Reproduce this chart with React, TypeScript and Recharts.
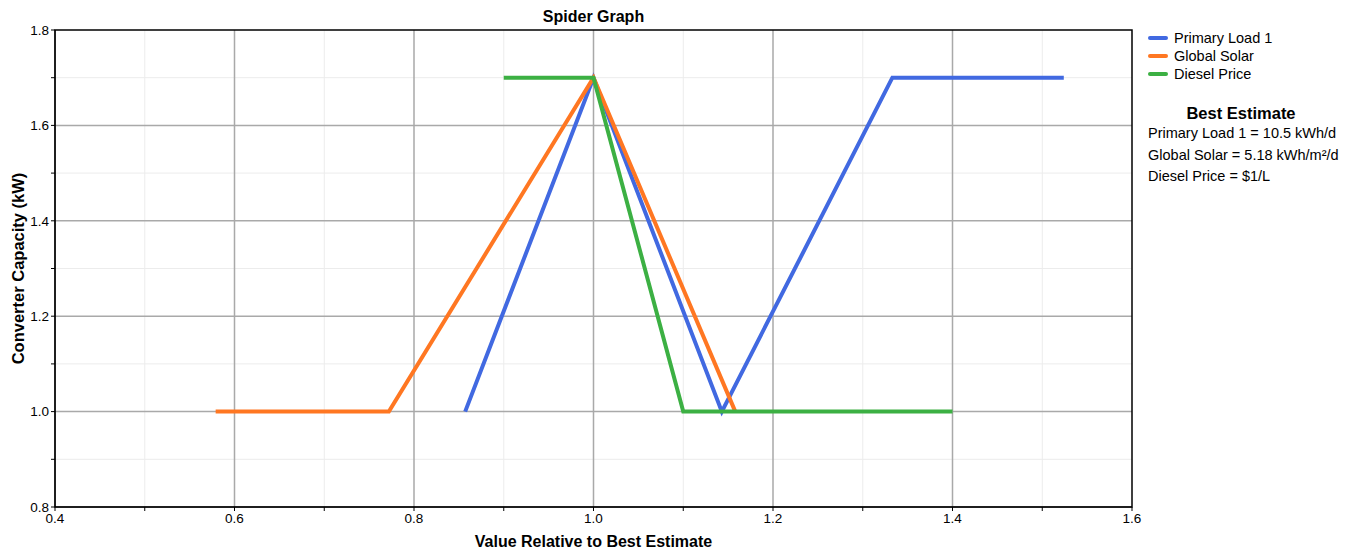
import {
  LineChart,
  Line,
  XAxis,
  YAxis,
  CartesianGrid,
  ReferenceArea,
} from "recharts";

// Sensitivity values, relative to best estimate
const loadX = [0.857, 1.0, 1.143, 1.333, 1.524];
const loadY = [1.0, 1.7, 1.0, 1.7, 1.7];

const solarX = [0.579, 0.772, 1.0, 1.158];
const solarY = [1.0, 1.0, 1.7, 1.0];

const dieselX = [0.9, 1.0, 1.1, 1.4];
const dieselY = [1.7, 1.7, 1.0, 1.0];

const xTicks = [0.4, 0.5, 0.6, 0.7, 0.8, 0.9, 1.0, 1.1, 1.2, 1.3, 1.4, 1.5, 1.6];
const yTicks = [0.8, 0.9, 1.0, 1.1, 1.2, 1.3, 1.4, 1.5, 1.6, 1.7, 1.8];
const xMajor = [0.6, 0.8, 1.0, 1.2, 1.4];
const xMinor = [0.5, 0.7, 0.9, 1.1, 1.3, 1.5];
const yMajor = [1.0, 1.2, 1.4, 1.6];
const yMinor = [0.9, 1.1, 1.3, 1.5, 1.7];

const seriesNames = ["Primary Load 1", "Global Solar", "Diesel Price"];
const seriesColors = ["#4169e1", "#ff7722", "#3cb043"];
const bestEstimates = [
  "Primary Load 1 = 10.5 kWh/d",
  "Global Solar = 5.18 kWh/m²/d",
  "Diesel Price = $1/L",
];

const toRows = (xs: number[], ys: number[]) => xs.map((x, i) => ({ x, y: ys[i] }));
const seriesData = [toRows(loadX, loadY), toRows(solarX, solarY), toRows(dieselX, dieselY)];

const FONT = "'Liberation Sans', Arial, sans-serif";

const isMajor = (v: number) => Math.round(v * 10) % 2 === 0;

function SideLegend() {
  return (
    <div
      style={{
        position: "absolute",
        left: 1148,
        top: 29,
        fontFamily: FONT,
        fontSize: 14.5,
        color: "#000",
        width: 211,
      }}
    >
      {seriesNames.map((name, i) => (
        <div key={name} style={{ display: "flex", alignItems: "center", height: 18 }}>
          <span
            style={{
              display: "inline-block",
              width: 20,
              height: 4,
              background: seriesColors[i],
              borderRadius: 2,
              marginRight: 6,
            }}
          />
          {name}
        </div>
      ))}
      <div
        style={{
          fontWeight: "bold",
          fontSize: 16.5,
          textAlign: "center",
          width: 186,
          marginTop: 20,
          height: 20,
          lineHeight: "20px",
        }}
      >
        Best Estimate
      </div>
      {bestEstimates.map((t) => (
        <div key={t} style={{ height: 21.5, lineHeight: "21.5px", whiteSpace: "nowrap" }}>
          {t}
        </div>
      ))}
    </div>
  );
}

export default function App() {
  return (
    <div
      style={{
        position: "absolute",
        left: 0,
        top: 0,
        width: 1359,
        height: 551,
        background: "#fff",
      }}
    >
      <div
        style={{
          position: "absolute",
          top: 8,
          left: 55,
          width: 1077,
          textAlign: "center",
          fontFamily: FONT,
          fontWeight: "bold",
          fontSize: 16,
        }}
      >
        Spider Graph
      </div>
      <LineChart
        width={1359}
        height={551}
        margin={{ top: 30, right: 227, bottom: 0, left: 0 }}
        style={{ fontFamily: FONT }}
      >
        <CartesianGrid
          stroke="#ececec"
          strokeWidth={1}
          verticalValues={xMinor}
          horizontalValues={yMinor}
        />
        <CartesianGrid
          stroke="#a9a9a9"
          strokeWidth={1.5}
          verticalValues={xMajor}
          horizontalValues={yMajor}
        />
        <XAxis
          type="number"
          dataKey="x"
          domain={[0.4, 1.6]}
          ticks={xTicks}
          interval={0}
          allowDuplicatedCategory={false}
          height={44}
          stroke="#000"
          tickSize={4}
          tick={{ fill: "#000", fontSize: 13.5 }}
          tickFormatter={(v: number) => (isMajor(v) ? v.toFixed(1) : "")}
          label={{
            value: "Value Relative to Best Estimate",
            position: "insideBottom",
            offset: 4,
            style: { fill: "#000", fontSize: 16, fontWeight: "bold" },
          }}
        />
        <YAxis
          type="number"
          dataKey="y"
          domain={[0.8, 1.8]}
          ticks={yTicks}
          interval={0}
          width={55}
          stroke="#000"
          tickSize={4}
          tick={{ fill: "#000", fontSize: 13.5 }}
          tickFormatter={(v: number) => (isMajor(v) ? v.toFixed(1) : "")}
          label={{
            value: "Converter Capacity (kW)",
            angle: -90,
            position: "insideLeft",
            offset: 18,
            style: { fill: "#000", fontSize: 16.5, fontWeight: "bold", textAnchor: "middle" },
          }}
        />
        <ReferenceArea
          x1={0.4}
          x2={1.6}
          y1={0.8}
          y2={1.8}
          fill="none"
          fillOpacity={0}
          stroke="#000"
          strokeWidth={1.5}
          ifOverflow="visible"
        />
        {seriesNames.map((name, i) => (
          <Line
            key={name}
            name={name}
            data={seriesData[i]}
            dataKey="y"
            type="linear"
            stroke={seriesColors[i]}
            strokeWidth={4}
            dot={false}
            activeDot={false}
            isAnimationActive={false}
          />
        ))}
      </LineChart>
      <SideLegend />
    </div>
  );
}
